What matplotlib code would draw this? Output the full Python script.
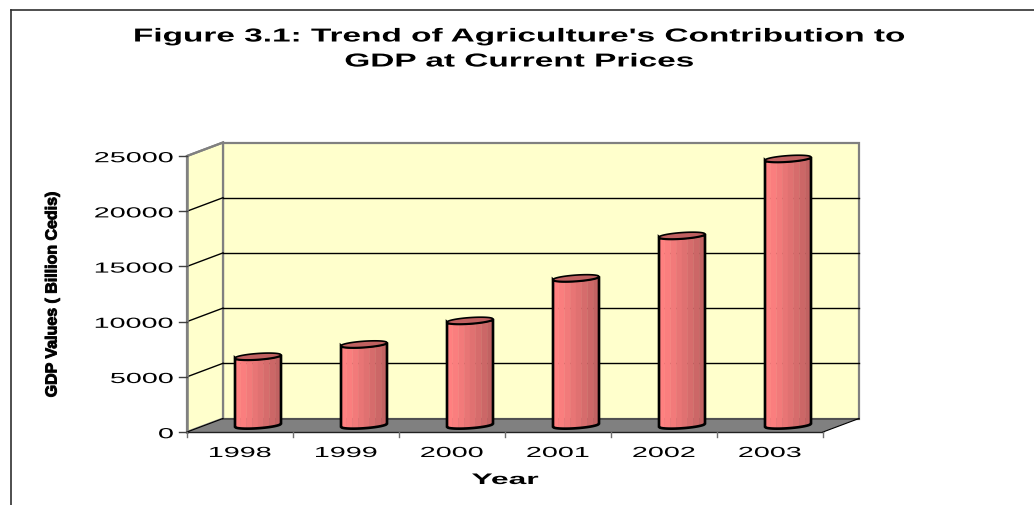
import matplotlib
matplotlib.use("Agg")
import numpy as np
import matplotlib.pyplot as plt
from matplotlib.patches import Polygon
from matplotlib.patheffects import AbstractPathEffect
from matplotlib.transforms import Affine2D

years = ["1998", "1999", "2000", "2001", "2002", "2003"]
gdp_values = [6230, 7340, 9480, 13330, 17180, 24150]
y_ticks = [0, 5000, 10000, 15000, 20000, 25000]
title_lines = ["Figure 3.1: Trend of Agriculture's Contribution to", "GDP at Current Prices"]
x_title = "Year"
y_title = "GDP Values ( Billion Cedis)"


class Stretch(AbstractPathEffect):
    """Stretches the glyphs along the text direction about their middle."""
    def __init__(self, sx, stroke=0.0):
        super().__init__()
        self.sx = sx
        self.stroke = stroke

    def draw_path(self, renderer, gc, tpath, affine, rgbFace=None):
        ext = tpath.get_extents()
        c = (ext.x0 + ext.x1) / 2
        a = Affine2D().translate(-c, 0).scale(self.sx, 1).translate(c, 0) + affine
        if self.stroke:
            gc0 = renderer.new_gc()
            gc0.copy_properties(gc)
            gc0.set_linewidth(self.stroke)
            gc0.set_foreground("black")
            renderer.draw_path(gc0, tpath, a, rgbFace)
            gc0.restore()
        else:
            renderer.draw_path(gc, tpath, a, rgbFace)


W, H = 1034, 506
fig = plt.figure(figsize=(W / 100, H / 100), dpi=100, facecolor="white")
plt.rcParams["font.family"] = ["Liberation Sans", "DejaVu Sans"]
L, R, T, B = 187, 823, 157, 433
ax = fig.add_axes([L / W, 1 - B / H, (R - L) / W, (B - T) / H])
ax.set_xlim(0, 6)
ax.set_ylim(0, 25000)
ax.axis("off")

PX = (R - L) / 6            # pixels per category
PY = (B - T) / 25000        # pixels per value unit
DX = 36 / PX
DY = 13.5 / PY
GREY = "#808080"
kw = dict(clip_on=False)

# back wall, side wall, floor
ax.add_patch(Polygon([(DX, DY), (6 + DX, DY), (6 + DX, 25000 + DY), (DX, 25000 + DY)],
                     fc="#FFFFCC", ec=GREY, lw=1.6, zorder=1, **kw))
ax.add_patch(Polygon([(0, 0), (DX, DY), (DX, 25000 + DY), (0, 25000)],
                     fc="#FFFFCC", ec=GREY, lw=1.6, zorder=1, **kw))

# grid
for v in y_ticks[1:-1]:
    ax.plot([0, DX], [v, v + DY], color="black", lw=1.0, zorder=2, **kw)
    ax.plot([DX, 6 + DX], [v + DY, v + DY], color="black", lw=1.0, zorder=2, **kw)

ax.add_patch(Polygon([(0, 0), (6, 0), (6 + DX, DY), (DX, DY)],
                     fc=GREY, ec="none", zorder=3, **kw))
ax.plot([DX, 6 + DX], [DY, DY], color="#505050", lw=1.4, zorder=3, **kw)
ax.plot([0, DX], [25000, 25000 + DY], color=GREY, lw=1.6, zorder=3, **kw)
ax.plot([0, 0], [0, 25000], color=GREY, lw=1.8, zorder=3, **kw)
ax.plot([0, 6], [0, 0], color="#202020", lw=1.0, zorder=3, **kw)
ax.plot([6, 6 + DX], [0, DY], color="black", lw=0.8, zorder=3, **kw)
ax.plot([0, DX], [0, DY], color="black", lw=0.8, zorder=3, **kw)

# ticks
for v in y_ticks:
    ax.plot([-8 / PX, 0], [v, v], color="#404040", lw=1.0, zorder=3, **kw)
for i in range(7):
    ax.plot([i, i], [0, -4.5 / PY], color="#707070", lw=1.0, zorder=3, **kw)

# tick labels: stretched about their middle, right edge kept near the ticks
SX_TICK = 1.97
FS_TICK = 10.5
for v in y_ticks:
    n = len(f"{v}")
    half = n * 0.556 * FS_TICK * 100 / 72 * SX_TICK / 2
    ax.text(-(13 + half) / PX, v - 2.2 / PY, f"{v}", ha="center", va="center", fontsize=FS_TICK,
            color="black", path_effects=[Stretch(SX_TICK)])

for i, y in enumerate(years):
    ax.annotate(y, (i + 0.5, 0), xytext=(0, -21), textcoords="offset pixels", ha="center",
                va="center", fontsize=FS_TICK, color="black", path_effects=[Stretch(SX_TICK)],
                annotation_clip=False)

# cylinders
a = (46 / PX) / 2
b = 3.0 / PY
tilt = 1.6 / PY
shades = ["#FF8080", "#FA7E7E", "#F27A7A", "#E87575", "#E07171", "#D66C6C", "#CC6767", "#C26262"]
s_edges = np.linspace(-1, 1, len(shades) + 1)


def front(u, yc):
    return yc + tilt * u - b * np.sqrt(np.clip(1 - u ** 2, 0, 1))


def back(u, yc):
    return yc + tilt * u + b * np.sqrt(np.clip(1 - u ** 2, 0, 1))


uu = np.linspace(-1, 1, 61)
for i, val in enumerate(gdp_values):
    cx = i + 0.5 + DX / 2
    y0 = DY / 2
    y1 = val + DY / 2
    for k, col in enumerate(shades):
        u = np.linspace(s_edges[k], s_edges[k + 1], 8)
        xs = np.r_[cx + a * u, (cx + a * u)[::-1]]
        ys = np.r_[front(u, y0), front(u, y1)[::-1]]
        ax.add_patch(Polygon(np.c_[xs, ys], fc=col, ec=col, lw=0.3, zorder=4, **kw))
    xs = np.r_[cx + a * uu, (cx + a * uu)[::-1]]
    ys = np.r_[front(uu, y0), front(uu, y1)[::-1]]
    ax.add_patch(Polygon(np.c_[xs, ys], fc="none", ec="black", lw=1.9, zorder=5, **kw))
    ys = np.r_[front(uu, y1), back(uu, y1)[::-1]]
    ax.add_patch(Polygon(np.c_[xs, ys], fc="#C06060", ec="black", lw=1.2, zorder=6, **kw))

# frame of the picture
fig.add_artist(plt.Line2D([11 / W, 11 / W], [0, 1 - 11 / H], color="#303030", lw=1.2))
fig.add_artist(plt.Line2D([11 / W, 1], [1 - 11 / H, 1 - 11 / H], color="#303030", lw=1.2))

# titles
fig.text(519 / W, 1 - 38 / H, title_lines[0], ha="center", va="center", fontsize=13.5,
         fontweight="bold", path_effects=[Stretch(1.78)])
fig.text(519 / W, 1 - 63 / H, title_lines[1], ha="center", va="center", fontsize=13.5,
         fontweight="bold", path_effects=[Stretch(1.78)])
fig.text(505 / W, 1 - 481 / H, x_title, ha="center", va="center", fontsize=11,
         fontweight="bold", path_effects=[Stretch(2.08)])
fig.text(52 / W, 1 - 295 / H, y_title, ha="center", va="center", rotation=90, fontsize=11.5,
         fontweight="bold", path_effects=[Stretch(1.0, stroke=0.7)])

fig.savefig("out.png", dpi=100, facecolor="white")
